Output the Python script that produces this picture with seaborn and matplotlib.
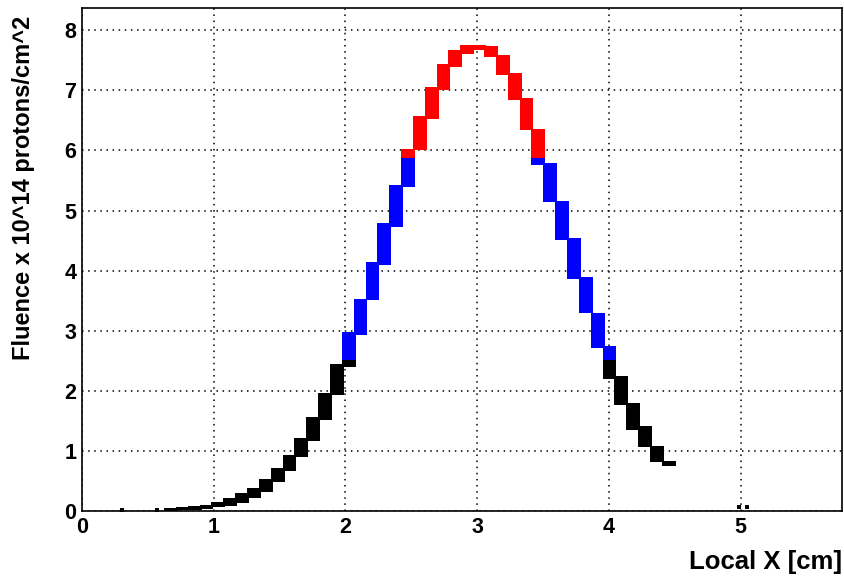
import numpy as np
import pandas as pd
import matplotlib
matplotlib.use("Agg")
import matplotlib.pyplot as plt
import seaborn as sns
from matplotlib.ticker import MultipleLocator

# ---- data ----
block_x = [0.675, 0.765, 0.855, 0.945, 1.035, 1.125, 1.215, 1.305, 1.395, 1.485,
           1.575, 1.665, 1.755, 1.845, 1.935, 2.025, 2.115, 2.205, 2.295, 2.385,
           2.475, 2.565, 2.655, 2.745, 2.835, 2.925, 3.015, 3.105, 3.195, 3.285,
           3.375, 3.465, 3.555, 3.645, 3.735, 3.825, 3.915, 4.005, 4.095, 4.185,
           4.275, 4.365, 4.455]
block_lo = [0.00, 0.01, 0.02, 0.04, 0.06, 0.09, 0.14, 0.22, 0.31, 0.48,
            0.66, 0.90, 1.17, 1.51, 1.93, 2.40, 2.93, 3.51, 4.09, 4.73,
            5.39, 6.00, 6.52, 7.00, 7.39, 7.60, 7.67, 7.55, 7.25, 6.84,
            6.34, 5.76, 5.14, 4.51, 3.86, 3.29, 2.71, 2.19, 1.76, 1.35,
            1.06, 0.82, 0.75]
block_hi = [0.05, 0.06, 0.08, 0.10, 0.15, 0.21, 0.30, 0.38, 0.54, 0.72,
            0.93, 1.21, 1.56, 1.97, 2.45, 2.98, 3.53, 4.14, 4.79, 5.42,
            6.03, 6.57, 7.05, 7.44, 7.67, 7.76, 7.76, 7.74, 7.59, 7.29,
            6.88, 6.36, 5.79, 5.16, 4.54, 3.89, 3.29, 2.74, 2.25, 1.80,
            1.41, 1.08, 0.83]
stray_x = [0.30, 0.57, 4.99, 5.05]
stray_y = [0.01, 0.01, 0.07, 0.06]
band_edges = [2.52, 5.88]
band_colors = ["black", "blue", "red"]

# split blocks into colour bands
bounds = [-np.inf] + band_edges + [np.inf]
rows = []
for x, lo, hi in zip(block_x, block_lo, block_hi):
    for i, c in enumerate(band_colors):
        s_lo = max(lo, bounds[i])
        s_hi = min(hi, bounds[i + 1])
        if s_hi > s_lo:
            rows.append((x, s_lo, s_hi, c))
seg = pd.DataFrame(rows, columns=["x", "lo", "hi", "color"])
strays = pd.DataFrame({"x": stray_x, "y": stray_y})

sns.set_style("white")
plt.rcParams['font.family'] = ['Liberation Sans', 'DejaVu Sans']
plt.rcParams.update({"text.color": "black", "axes.labelcolor": "black",
                     "xtick.color": "black", "ytick.color": "black",
                     "axes.edgecolor": "black"})

fig = plt.figure(figsize=(8.45, 5.86), dpi=100)
ax = fig.add_axes([82 / 845, 1 - 511 / 586, 760 / 845, 503 / 586])

ax.bar(seg["x"], seg["hi"] - seg["lo"], bottom=seg["lo"], width=0.105,
       color=seg["color"], linewidth=0, zorder=3)
sns.scatterplot(data=strays, x="x", y="y", ax=ax, color="black", s=6,
                marker="s", linewidth=0, zorder=3, legend=False)

ax.set_xlim(0, 5.77)
ax.set_ylim(0, 8.37)
ax.xaxis.set_major_locator(MultipleLocator(1))
ax.xaxis.set_minor_locator(MultipleLocator(0.2))
ax.yaxis.set_major_locator(MultipleLocator(1))
ax.yaxis.set_minor_locator(MultipleLocator(0.2))

ax.grid(True, which="major", color="black", linestyle=(0, (1, 3)), linewidth=1.1)
ax.set_axisbelow(True)

ax.tick_params(which="major", direction="in", length=9, width=1.1,
               labelsize=15.5, pad=4, top=False, right=False, colors="black")
ax.tick_params(which="minor", direction="in", length=4.5, width=1.1,
               top=False, right=False, colors="black")
for lab in ax.get_xticklabels() + ax.get_yticklabels():
    lab.set_fontweight("bold")
for sp in ax.spines.values():
    sp.set_linewidth(1.2)
    sp.set_color("black")

ax.set_xlabel("Local X [cm]", fontsize=18.5, fontweight="bold", loc="right",
              labelpad=9, color="black")
ax.set_ylabel("Fluence x 10^14 protons/cm^2", fontsize=17, fontweight="bold",
              loc="top", labelpad=21, color="black")
ax.yaxis.label.set_position((0, 0.985))

fig.savefig("out.png", dpi=100)
